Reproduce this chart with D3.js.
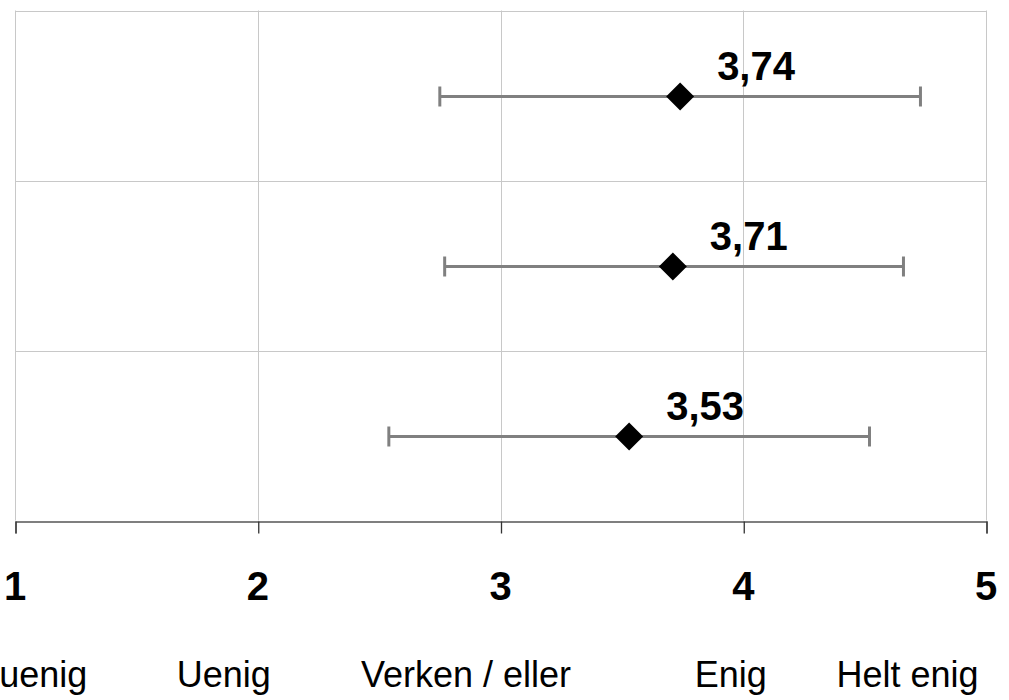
<!DOCTYPE html>
<html>
<head>
<meta charset="utf-8">
<script src="https://cdn.jsdelivr.net/npm/d3@7"></script>
<style>
  html, body { margin: 0; padding: 0; background: #fff; }
  svg { display: block; font-family: "Liberation Sans", Arial, sans-serif; }
</style>
</head>
<body>
<svg id="chart" width="1009" height="700"></svg>
<script>
// ---- data ----
const rows = ["A", "B", "C"];
const means = [3.74, 3.71, 3.53];
const lowers = [2.75, 2.77, 2.54];
const uppers = [4.73, 4.66, 4.52];
const meanLabels = ["3,74", "3,71", "3,53"];
const tickValues = [1, 2, 3, 4, 5];
const tickLabels = ["1", "2", "3", "4", "5"];
const scaleLabels = ["Helt uenig", "Uenig", "Verken / eller", "Enig", "Helt enig"];
const scaleLabelCenters = [0.964, 1.86, 2.858, 3.949, 4.677];

// ---- layout ----
(function () {
const svg = d3.select("#chart");
const pL = 15, pR = 986, pT = 10.5, pB = 520.5;

const x = d3.scaleLinear().domain([1, 5]).range([pL, pR]);
const y = d3.scaleBand().domain(rows).range([pT, pB]);

// vertical gridlines
svg.append("g").selectAll("line").data(tickValues).join("line")
  .attr("x1", d => Math.round(x(d)) + 0.5).attr("x2", d => Math.round(x(d)) + 0.5)
  .attr("y1", pT).attr("y2", pB)
  .attr("stroke", "#c8c8c8").attr("stroke-width", 1);

// horizontal gridlines (band boundaries)
const bounds = rows.map(r => y(r));
svg.append("g").selectAll("line").data(bounds).join("line")
  .attr("x1", pL).attr("x2", pR)
  .attr("y1", d => Math.round(d) + 0.5).attr("y2", d => Math.round(d) + 0.5)
  .attr("stroke", "#c8c8c8").attr("stroke-width", 1);

// x axis
const axis = d3.axisBottom(x).tickValues(tickValues).tickSize(12).tickFormat("");
const ax = svg.append("g").attr("transform", `translate(0.5,${Math.round(pB) + 0.5})`).call(axis);
ax.select(".domain").attr("stroke", "#555").attr("stroke-width", 1.3);
ax.selectAll(".tick line").attr("stroke", "#333").attr("stroke-width", 1.3);

// tick labels
svg.append("g").selectAll("text").data(tickValues).join("text")
  .attr("x", d => x(d)).attr("y", 600)
  .attr("text-anchor", "middle")
  .attr("font-size", 40).attr("font-weight", "bold").attr("fill", "#000")
  .text((d, i) => tickLabels[i]);

// scale labels
svg.append("g").selectAll("text").data(scaleLabels).join("text")
  .attr("x", (d, i) => x(scaleLabelCenters[i])).attr("y", 687)
  .attr("text-anchor", "middle")
  .attr("font-size", 36).attr("fill", "#000")
  .text(d => d);

// error bars
const cy = r => y(r) + y.bandwidth() / 2 + 1;
const eb = svg.append("g").attr("stroke", "#808080").attr("stroke-width", 3);
rows.forEach((r, i) => {
  eb.append("line").attr("x1", x(lowers[i])).attr("x2", x(uppers[i]))
    .attr("y1", cy(r)).attr("y2", cy(r));
  [lowers[i], uppers[i]].forEach(v => {
    eb.append("line").attr("x1", x(v)).attr("x2", x(v))
      .attr("y1", cy(r) - 10).attr("y2", cy(r) + 10);
  });
});

// diamonds
const sym = d3.symbol().type(d3.symbolDiamond2).size(500);
svg.append("g").selectAll("path").data(rows).join("path")
  .attr("d", sym)
  .attr("transform", (r, i) => `translate(${x(means[i])},${cy(r)})`)
  .attr("fill", "#000");

// value labels
svg.append("g").selectAll("text").data(rows).join("text")
  .attr("x", (r, i) => x(means[i]) + 37).attr("y", r => cy(r) - 17)
  .attr("font-size", 40).attr("font-weight", "bold").attr("fill", "#000")
  .text((r, i) => meanLabels[i]);
})();
</script>
</body>
</html>
